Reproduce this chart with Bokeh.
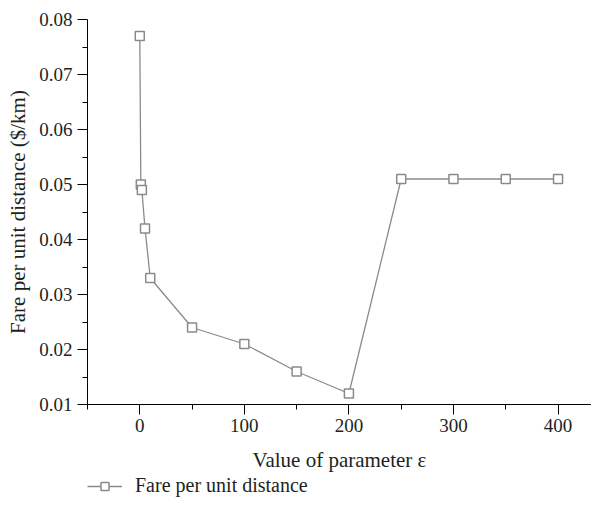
from bokeh.plotting import figure
from bokeh.layouts import column
from bokeh.models import Range1d, FixedTicker, PrintfTickFormatter, Legend, LegendItem
from bokeh.embed import file_html
from bokeh.resources import INLINE

# Data
epsilon = [0, 1, 2, 5, 10, 50, 100, 150, 200, 250, 300, 350, 400]
fare = [0.077, 0.050, 0.049, 0.042, 0.033, 0.024, 0.021, 0.016, 0.012, 0.051, 0.051, 0.051, 0.051]
x_major = [0, 100, 200, 300, 400]
x_minor = [-50, 50, 150, 250, 350]
y_major = [0.01, 0.02, 0.03, 0.04, 0.05, 0.06, 0.07, 0.08]
y_minor = [0.015, 0.025, 0.035, 0.045, 0.055, 0.065, 0.075]
series_name = "Fare per unit distance"
x_label = "Value of parameter ε"
y_label = "Fare per unit distance ($/km)"

FONT = "Liberation Serif"
GREY = "#8a8a8a"
TXT = "#231f20"

p = figure(width=591, height=475, x_range=Range1d(-50, 432), y_range=Range1d(0.01, 0.08),
           output_backend="svg", toolbar_location=None,
           min_border_left=87, min_border_top=19, min_border_right=0, min_border_bottom=71)
p.outline_line_color = None
p.xgrid.visible = False
p.ygrid.visible = False

p.line(epsilon, fare, line_color=GREY, line_width=1.3)
p.scatter(epsilon, fare, marker="square", size=9, fill_color="white",
          line_color=GREY, line_width=1.5)

for ax in (p.xaxis[0], p.yaxis[0]):
    ax.axis_line_color = "black"
    ax.axis_line_width = 1
    ax.major_tick_in = 0
    ax.major_tick_out = 10
    ax.minor_tick_in = 0
    ax.minor_tick_out = 5
    ax.major_tick_line_color = "black"
    ax.minor_tick_line_color = "black"
    ax.major_label_text_font = FONT
    ax.major_label_text_font_size = "19px"
    ax.major_label_text_color = TXT
    ax.axis_label_text_font = FONT
    ax.axis_label_text_font_size = "21px"
    ax.axis_label_text_font_style = "normal"
    ax.axis_label_text_color = TXT

p.xaxis[0].ticker = FixedTicker(ticks=x_major, minor_ticks=x_minor)
p.yaxis[0].ticker = FixedTicker(ticks=y_major, minor_ticks=y_minor)
p.yaxis[0].formatter = PrintfTickFormatter(format="%.2f")
p.xaxis[0].axis_label = x_label
p.yaxis[0].axis_label = y_label
p.xaxis[0].major_label_standoff = 4
p.yaxis[0].major_label_standoff = 5
p.xaxis[0].axis_label_standoff = 13
p.yaxis[0].axis_label_standoff = 6

# Legend strip below the chart (its own series copy sits outside the visible range)
lg = figure(width=591, height=22, x_range=Range1d(1000, 1001), y_range=Range1d(0, 1),
            x_axis_location=None, y_axis_location=None,
            output_backend="svg", toolbar_location=None,
            min_border_left=0, min_border_right=0, min_border_top=0, min_border_bottom=0)
lg.grid.visible = False
lg.outline_line_color = None
l_line = lg.line(epsilon, fare, line_color=GREY, line_width=1.3)
l_sq = lg.scatter(epsilon, fare, marker="square", size=9, fill_color="white",
                  line_color=GREY, line_width=1.5)
legend = Legend(items=[LegendItem(label=series_name, renderers=[l_line, l_sq])],
                location=(0, 0), orientation="horizontal")
legend.border_line_color = None
legend.background_fill_alpha = 0
legend.label_text_font = FONT
legend.label_text_font_size = "20px"
legend.label_text_color = TXT
legend.glyph_width = 35
legend.label_standoff = 13
legend.padding = 0
legend.margin = 0
lg.add_layout(legend, "center")

layout = column(p, lg, spacing=0)
open("out.html", "w").write(file_html(layout, INLINE))
